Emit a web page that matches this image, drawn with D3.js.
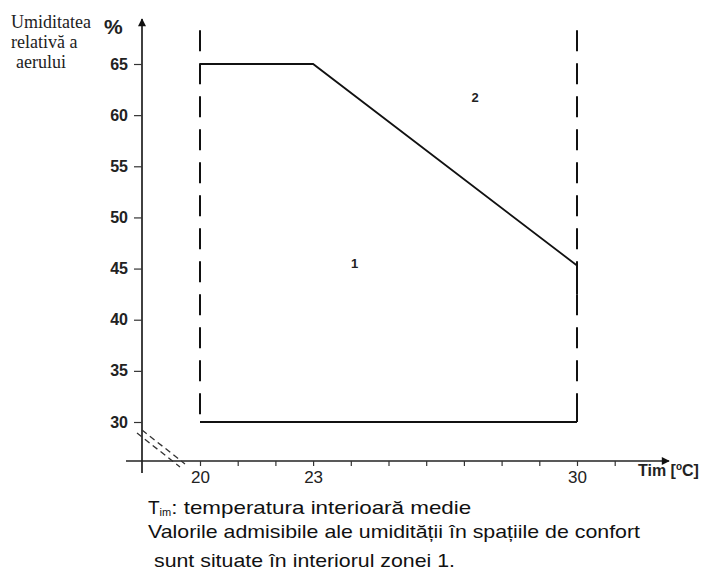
<!DOCTYPE html>
<html>
<head>
<meta charset="utf-8">
<script src="https://cdn.jsdelivr.net/npm/d3@7"></script>
<style>
  body { margin: 0; background: #fff; }
  svg { display: block; }
  .tick-label { font-family: "Liberation Sans", Arial, sans-serif; fill: #222; }
</style>
</head>
<body>
<svg id="chart" width="708" height="575"></svg>
<script>
// humidity ticks (%) and temperature ticks (degC)
var yTicks = [30, 35, 40, 45, 50, 55, 60, 65],
    xMinor = [20, 21, 22, 23, 24, 25, 26, 27, 28, 29, 30, 31],
    xLabels = [20, 23, 30];

// upper boundary of zone 1: [temperature, humidity]
var upperEdge = [[20, 65], [23, 65], [30, 45.3]],
    lowerEdge = [[20, 30], [30, 30]],
    // dashed limits at 20 and 30 degC
    limits = [20, 30],
    limitTop = 68.3;

var zoneLabels = [
  {text: "1", t: 24.1, h: 45.5},
  {text: "2", t: 27.3, h: 61.7}
];

var svg = d3.select("#chart");

var x = d3.scaleLinear().domain([20, 30]).range([200, 577]),
    y = d3.scaleLinear().domain([30, 65]).range([422, 64]);

var axisX = 142, axisY = 461;

// arrow heads
svg.append("defs").append("marker")
    .attr("id", "arrow")
    .attr("viewBox", "0 0 10 10")
    .attr("refX", 9).attr("refY", 5)
    .attr("markerWidth", 11).attr("markerHeight", 8)
    .attr("markerUnits", "userSpaceOnUse")
    .attr("orient", "auto")
  .append("path")
    .attr("d", "M0,0L10,5L0,10z")
    .attr("fill", "#111");

svg.append("line")
    .attr("x1", axisX).attr("y1", 473)
    .attr("x2", axisX).attr("y2", 19)
    .attr("stroke", "#111").attr("stroke-width", 1.6)
    .attr("marker-end", "url(#arrow)");

svg.append("line")
    .attr("x1", 126).attr("y1", axisY)
    .attr("x2", 669).attr("y2", axisY)
    .attr("stroke", "#222").attr("stroke-width", 1.4)
    .attr("marker-end", "url(#arrow)");

// y ticks
var yAxis = d3.axisLeft(y).tickValues(yTicks).tickSize(8).tickPadding(6);
var gy = svg.append("g").attr("transform", "translate(" + axisX + ",0)").call(yAxis);
gy.select(".domain").remove();
gy.selectAll(".tick line").attr("stroke", "#333").attr("stroke-width", 1.2);
gy.selectAll(".tick text").attr("class", "tick-label")
  .attr("font-size", null).attr("font-family", null)
  .style("font-size", "16px").style("font-weight", "bold");

// x ticks
var xAxis = d3.axisBottom(x).tickValues(xMinor).tickSize(5).tickFormat(function(d) {
  return xLabels.indexOf(d) >= 0 ? d : "";
}).tickPadding(5);
var gx = svg.append("g").attr("transform", "translate(0," + axisY + ")").call(xAxis);
gx.select(".domain").remove();
gx.selectAll(".tick line").attr("stroke", "#333").attr("stroke-width", 1.2);
gx.selectAll(".tick text").attr("class", "tick-label")
  .attr("font-size", null).attr("font-family", null)
  .style("font-size", "17px");

// axis break marks
[0, 5].forEach(function(off) {
  svg.append("line")
      .attr("x1", 137 + off).attr("y1", 433 - off * 0.6)
      .attr("x2", 180 + off).attr("y2", 467 - off * 0.6)
      .attr("stroke", "#333").attr("stroke-width", 1.3)
      .attr("stroke-dasharray", "6,4");
});

// axis titles
var ytitle = svg.append("text")
    .attr("font-family", "'Liberation Serif', 'Times New Roman', serif")
    .attr("font-size", 18).attr("fill", "#222");
ytitle.append("tspan").attr("x", 11).attr("y", 28).text("Umiditatea");
ytitle.append("tspan").attr("x", 11).attr("y", 48).text("relativă a");
ytitle.append("tspan").attr("x", 16).attr("y", 68).text("aerului");

svg.append("text")
    .attr("x", 104).attr("y", 34)
    .attr("font-family", "'Liberation Sans', Arial, sans-serif")
    .attr("font-size", 21).attr("font-weight", "bold").attr("fill", "#222")
    .text("%");

svg.append("text")
    .attr("x", 638).attr("y", 476)
    .attr("font-family", "'Liberation Sans', Arial, sans-serif")
    .attr("font-size", 16).attr("font-weight", "bold").attr("fill", "#222")
    .html("Tim [<tspan dy='-6' font-size='10'>o</tspan><tspan dy='6'>C]</tspan>");

// dashed limits
svg.selectAll(".limit").data(limits).enter().append("line")
    .attr("class", "limit")
    .attr("x1", function(d) { return x(d); })
    .attr("x2", function(d) { return x(d); })
    .attr("y1", y(limitTop))
    .attr("y2", y(30))
    .attr("stroke", "#111").attr("stroke-width", 2)
    .attr("stroke-dasharray", "21,12");

var line = d3.line().x(function(d) { return x(d[0]); }).y(function(d) { return y(d[1]); });

[upperEdge, lowerEdge].forEach(function(pts) {
  svg.append("path")
      .attr("d", line(pts))
      .attr("fill", "none")
      .attr("stroke", "#111").attr("stroke-width", 1.8);
});

// short solid bits of the limits at the corners
svg.append("path")
    .attr("d", line([[30, 45.3], [30, 42.5]]))
    .attr("stroke", "#111").attr("stroke-width", 2);
svg.append("path")
    .attr("d", line([[30, 32.3], [30, 30]]))
    .attr("stroke", "#111").attr("stroke-width", 2);

svg.selectAll(".zone").data(zoneLabels).enter().append("text")
    .attr("class", "zone")
    .attr("x", function(d) { return x(d.t); })
    .attr("y", function(d) { return y(d.h); })
    .attr("text-anchor", "middle")
    .attr("dy", "0.35em")
    .attr("font-family", "'Liberation Sans', Arial, sans-serif")
    .attr("font-size", 13).attr("font-weight", "bold").attr("fill", "#222")
    .text(function(d) { return d.text; });

// caption
var cap = svg.append("g")
    .attr("font-family", "'Liberation Sans', Arial, sans-serif")
    .attr("font-size", 19).attr("fill", "#111");
var t1 = cap.append("text").attr("x", 148).attr("y", 514);
t1.append("tspan").text("T");
t1.append("tspan").attr("font-size", 11).attr("dy", 2).text("im");
t1.append("tspan").attr("dy", -2).attr("textLength", 300).attr("lengthAdjust", "spacingAndGlyphs")
    .text(": temperatura interioară medie");
cap.append("text").attr("x", 148).attr("y", 538)
    .attr("textLength", 492).attr("lengthAdjust", "spacingAndGlyphs")
    .text("Valorile admisibile ale umidității în spațiile de confort");
cap.append("text").attr("x", 154).attr("y", 567)
    .attr("textLength", 301).attr("lengthAdjust", "spacingAndGlyphs")
    .text("sunt situate în interiorul zonei 1.");
</script>
</body>
</html>
